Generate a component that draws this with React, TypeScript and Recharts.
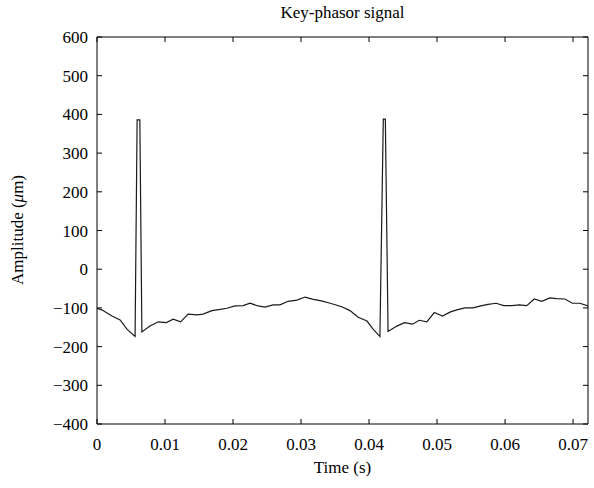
import { LineChart, Line, XAxis, YAxis } from "recharts";

const W = 594;
const H = 488;

// time (s) and amplitude (μm)
const TIMES = [
  0, 0.0007, 0.0022, 0.0034, 0.0044, 0.0056, 0.0059, 0.0063, 0.0066, 0.0078,
  0.009, 0.0102, 0.0112, 0.0123, 0.0134, 0.0147, 0.0156, 0.0169, 0.0181, 0.0191,
  0.0203, 0.0215, 0.0225, 0.0237, 0.0247, 0.0259, 0.0269, 0.0281, 0.0294, 0.0306,
  0.0318, 0.033, 0.0343, 0.036, 0.0372, 0.0384, 0.0397, 0.0406, 0.0416, 0.0421,
  0.0424, 0.0428, 0.0441, 0.0452, 0.0464, 0.0474, 0.0485, 0.0496, 0.0508, 0.0519,
  0.0529, 0.0541, 0.0553, 0.0566, 0.0575, 0.0587, 0.0598, 0.061, 0.0621, 0.0632,
  0.0643, 0.0654, 0.0666, 0.0676, 0.0688, 0.0699, 0.071, 0.0722,
];
const AMPLITUDES = [
  -101, -105, -121, -131, -155, -174, 386, 386, -162, -147,
  -136, -138, -129, -136, -116, -118, -116, -107, -104, -101,
  -95, -94, -88, -95, -98, -92, -92, -83, -80, -72,
  -78, -82, -88, -97, -107, -124, -134, -155, -174, 388,
  388, -161, -147, -138, -142, -132, -136, -112, -121, -111,
  -105, -100, -100, -94, -91, -88, -94, -94, -92, -94,
  -77, -83, -74, -76, -77, -88, -88, -95,
];
const X_TICKS = [0, 0.01, 0.02, 0.03, 0.04, 0.05, 0.06, 0.07];
const Y_TICKS = [-400, -300, -200, -100, 0, 100, 200, 300, 400, 500, 600];

const data = TIMES.map((t, i) => ({ t, a: AMPLITUDES[i] }));

const FONT = '"Liberation Serif", "Times New Roman", serif';
const TICK_LEN = 5;

const fmtY = (v: number) => (v < 0 ? `\u2212${Math.abs(v)}` : `${v}`);

const BottomTick = (p: any) => (
  <g>
    <line x1={p.x} y1={p.y} x2={p.x} y2={p.y - TICK_LEN} stroke="#000" />
    <text x={p.x} y={p.y + 26} textAnchor="middle" fontSize={17} fontFamily={FONT} fill="#000">
      {p.payload.value}
    </text>
  </g>
);

const TopTick = (p: any) => (
  <line x1={p.x} y1={p.y} x2={p.x} y2={p.y + TICK_LEN} stroke="#000" />
);

const LeftTick = (p: any) => (
  <g>
    <line x1={p.x} y1={p.y} x2={p.x + TICK_LEN} y2={p.y} stroke="#000" />
    <text x={p.x - 9} y={p.y + 6} textAnchor="end" fontSize={17} fontFamily={FONT} fill="#000">
      {fmtY(p.payload.value)}
    </text>
  </g>
);

const RightTick = (p: any) => (
  <line x1={p.x} y1={p.y} x2={p.x - TICK_LEN} y2={p.y} stroke="#000" />
);

export default function App() {
  return (
    <div style={{ position: "absolute", left: 0, top: 0, width: W, height: H, background: "#fff", fontFamily: FONT }}>
      <div style={{ position: "absolute", left: 97, width: 491, top: 3, textAlign: "center", fontSize: 17, color: "#000" }}>
        Key-phasor signal
      </div>
      <div style={{ position: "absolute", left: 97, width: 491, top: 458, textAlign: "center", fontSize: 17, color: "#000" }}>
        Time (s)
      </div>
      <div
        style={{
          position: "absolute",
          left: 18,
          top: 230,
          transform: "translate(-50%, -50%) rotate(-90deg)",
          whiteSpace: "nowrap",
          fontSize: 17,
          color: "#000",
        }}
      >
        Amplitude (<i>μ</i>m)
      </div>
      <LineChart width={W} height={H} data={data} margin={{ top: 36, right: 5, bottom: 0, left: 0 }}>
        <XAxis
          dataKey="t"
          type="number"
          domain={[0, 0.0722]}
          ticks={X_TICKS}
          allowDataOverflow
          height={64}
          tickSize={0}
          tickMargin={0}
          tickLine={false}
          axisLine={{ stroke: "#000" }}
          tick={BottomTick}
          interval={0}
        />
        <XAxis
          xAxisId="top"
          orientation="top"
          dataKey="t"
          type="number"
          domain={[0, 0.0722]}
          ticks={X_TICKS}
          allowDataOverflow
          height={1}
          tickSize={0}
          tickMargin={0}
          tickLine={false}
          axisLine={{ stroke: "#000" }}
          tick={TopTick}
          interval={0}
        />
        <YAxis
          type="number"
          domain={[-400, 600]}
          ticks={Y_TICKS}
          allowDataOverflow
          width={97}
          tickSize={0}
          tickMargin={0}
          tickLine={false}
          axisLine={{ stroke: "#000" }}
          tick={LeftTick}
          interval={0}
        />
        <YAxis
          yAxisId="right"
          orientation="right"
          type="number"
          domain={[-400, 600]}
          ticks={Y_TICKS}
          allowDataOverflow
          width={1}
          tickSize={0}
          tickMargin={0}
          tickLine={false}
          axisLine={{ stroke: "#000" }}
          tick={RightTick}
          interval={0}
        />
        {/* invisible twin so the mirrored top/right axes get drawn */}
        <Line
          xAxisId="top"
          yAxisId="right"
          dataKey="a"
          stroke="none"
          dot={false}
          activeDot={false}
          legendType="none"
          isAnimationActive={false}
        />
        <Line
          dataKey="a"
          type="linear"
          stroke="#1a1a1a"
          strokeWidth={1.2}
          dot={false}
          isAnimationActive={false}
        />
      </LineChart>
    </div>
  );
}
